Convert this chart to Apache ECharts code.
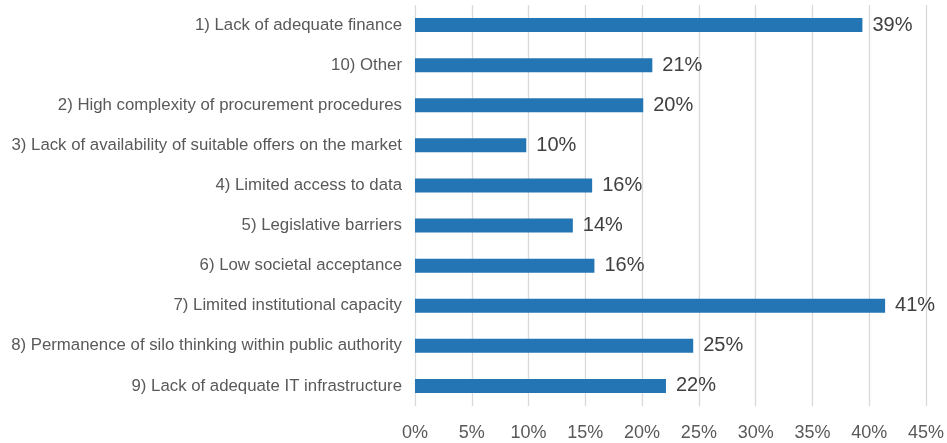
<!DOCTYPE html>
<html>
<head>
<meta charset="utf-8">
<script src="https://cdn.jsdelivr.net/npm/echarts@6/dist/echarts.min.js"></script>
<style>
html,body{margin:0;padding:0;background:#fff;}
#c{width:947px;height:443px;}
</style>
</head>
<body>
<div id="c"></div>
<script>
const categories = [
  "1) Lack of adequate finance",
  "10) Other",
  "2) High complexity of procurement procedures",
  "3) Lack of availability of suitable offers on the market",
  "4) Limited access to data",
  "5) Legislative barriers",
  "6) Low societal acceptance",
  "7) Limited institutional capacity",
  "8) Permanence of silo thinking within public authority",
  "9) Lack of adequate IT infrastructure"
];
const values = [39.4, 20.9, 20.1, 9.8, 15.6, 13.9, 15.8, 41.4, 24.5, 22.1];
const xTicks = { min: 0, max: 45, interval: 5 };

const chart = echarts.init(document.getElementById('c'), null, { renderer: 'canvas' });
chart.setOption({
  animation: false,
  grid: { left: 415, right: 21, top: 5, bottom: 37, containLabel: false },
  xAxis: {
    type: 'value',
    min: xTicks.min, max: xTicks.max, interval: xTicks.interval,
    axisLine: { show: false },
    axisTick: { show: false },
    splitLine: { show: true, lineStyle: { color: '#d9d9d9', width: 1.3 } },
    axisLabel: {
      formatter: v => v + '%',
      fontFamily: 'Liberation Sans, Arial, sans-serif',
      fontSize: 18, color: '#595959', margin: 18
    }
  },
  yAxis: {
    type: 'category',
    data: categories,
    inverse: true,
    axisLine: { show: false },
    axisTick: { show: false },
    splitLine: { show: false },
    axisLabel: {
      fontFamily: 'Liberation Sans, Arial, sans-serif',
      fontSize: 16.8, color: '#595959', margin: 13
    }
  },
  series: [{
    type: 'bar',
    data: values,
    barWidth: 14,
    itemStyle: { color: '#2375b4' },
    label: {
      show: true, position: 'right', distance: 10,
      formatter: p => Math.round(p.value) + '%',
      fontFamily: 'Liberation Sans, Arial, sans-serif',
      fontSize: 20, color: '#404040'
    }
  }]
});
</script>
</body>
</html>
